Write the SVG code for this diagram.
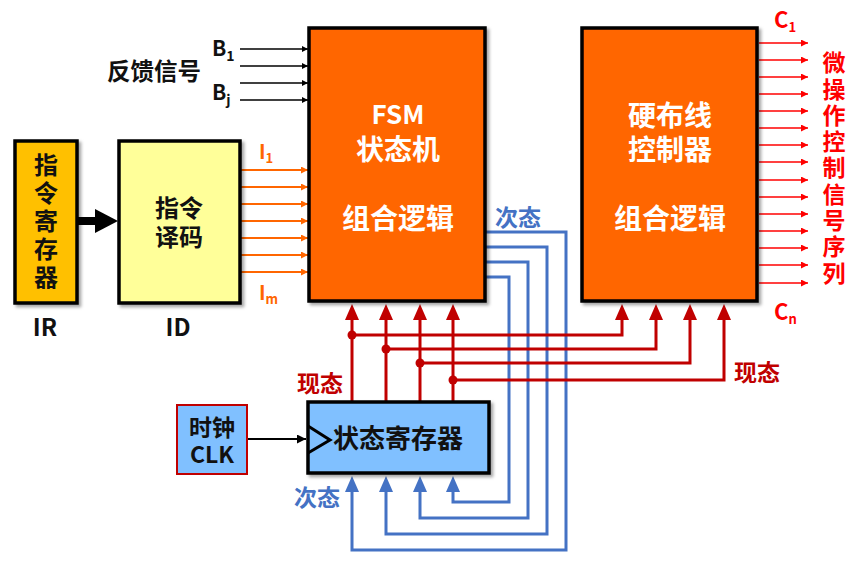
<svg xmlns="http://www.w3.org/2000/svg" width="860" height="562" viewBox="0 0 860 562">
<defs>
<style>
text{font-family:"Noto Sans CJK SC","Microsoft YaHei","Liberation Sans",sans-serif;font-weight:bold;}
.box{stroke:#000;stroke-width:3.5;}
.w{fill:#fff;font-size:28px;text-anchor:middle;}
.k{fill:#111;text-anchor:middle;}
.bl{stroke:#000;stroke-width:1.5;fill:none;}
.or{stroke:#FF6600;stroke-width:2;fill:none;}
.rd{stroke:#FF0000;stroke-width:1.6;fill:none;}
.dr{stroke:#C00000;stroke-width:3;fill:none;}
.bu{stroke:#4472C4;stroke-width:3;fill:none;}
</style>
<filter id="sh" x="-10%" y="-10%" width="130%" height="130%">
<feDropShadow dx="2.5" dy="2.5" stdDeviation="1.5" flood-color="#000" flood-opacity="0.35"/>
</filter>
<marker id="ab" viewBox="0 0 10 10" refX="10" refY="5" markerWidth="6" markerHeight="6" markerUnits="userSpaceOnUse" orient="auto"><path d="M0,0L10,5L0,10z" fill="#000"/></marker>
<marker id="ao" viewBox="0 0 10 10" refX="10" refY="5" markerWidth="7" markerHeight="7" markerUnits="userSpaceOnUse" orient="auto"><path d="M0,0L10,5L0,10z" fill="#FF6600"/></marker>
<marker id="ar" viewBox="0 0 10 10" refX="10" refY="5" markerWidth="7" markerHeight="7" markerUnits="userSpaceOnUse" orient="auto"><path d="M0,0L10,5L0,10z" fill="#FF0000"/></marker>
<marker id="ac" viewBox="0 0 10 10" refX="10" refY="5" markerWidth="9" markerHeight="9" markerUnits="userSpaceOnUse" orient="auto"><path d="M0,0L10,5L0,10z" fill="#000"/></marker>
</defs>
<rect width="860" height="562" fill="#fff"/>

<g id="connectors">
  <rect x="77" y="217" width="19" height="8" fill="#000"/>
  <path d="M95,209L118,221L95,233z" fill="#000"/>
  <line class="bl" x1="240" y1="49" x2="308" y2="49" marker-end="url(#ab)"/>
  <line class="bl" x1="240" y1="66" x2="308" y2="66" marker-end="url(#ab)"/>
  <line class="bl" x1="240" y1="83" x2="308" y2="83" marker-end="url(#ab)"/>
  <line class="bl" x1="240" y1="100" x2="308" y2="100" marker-end="url(#ab)"/>
  <line class="or" x1="241" y1="170" x2="308" y2="170" marker-end="url(#ao)"/>
  <line class="or" x1="241" y1="187" x2="308" y2="187" marker-end="url(#ao)"/>
  <line class="or" x1="241" y1="204" x2="308" y2="204" marker-end="url(#ao)"/>
  <line class="or" x1="241" y1="221" x2="308" y2="221" marker-end="url(#ao)"/>
  <line class="or" x1="241" y1="238" x2="308" y2="238" marker-end="url(#ao)"/>
  <line class="or" x1="241" y1="255" x2="308" y2="255" marker-end="url(#ao)"/>
  <line class="or" x1="241" y1="272" x2="308" y2="272" marker-end="url(#ao)"/>
  <g>
  <line class="rd" x1="759" y1="43" x2="808" y2="43" marker-end="url(#ar)"/>
  <line class="rd" x1="759" y1="60" x2="808" y2="60" marker-end="url(#ar)"/>
  <line class="rd" x1="759" y1="77" x2="808" y2="77" marker-end="url(#ar)"/>
  <line class="rd" x1="759" y1="94" x2="808" y2="94" marker-end="url(#ar)"/>
  <line class="rd" x1="759" y1="111" x2="808" y2="111" marker-end="url(#ar)"/>
  <line class="rd" x1="759" y1="128" x2="808" y2="128" marker-end="url(#ar)"/>
  <line class="rd" x1="759" y1="145" x2="808" y2="145" marker-end="url(#ar)"/>
  <line class="rd" x1="759" y1="162" x2="808" y2="162" marker-end="url(#ar)"/>
  <line class="rd" x1="759" y1="180" x2="808" y2="180" marker-end="url(#ar)"/>
  <line class="rd" x1="759" y1="197" x2="808" y2="197" marker-end="url(#ar)"/>
  <line class="rd" x1="759" y1="214" x2="808" y2="214" marker-end="url(#ar)"/>
  <line class="rd" x1="759" y1="231" x2="808" y2="231" marker-end="url(#ar)"/>
  <line class="rd" x1="759" y1="248" x2="808" y2="248" marker-end="url(#ar)"/>
  <line class="rd" x1="759" y1="265" x2="808" y2="265" marker-end="url(#ar)"/>
  <line class="rd" x1="759" y1="283" x2="808" y2="283" marker-end="url(#ar)"/>
  </g>
  <path class="bu" d="M486,232H566V550H352V490"/>
  <path class="bu" d="M486,247H547V534H386V490"/>
  <path class="bu" d="M486,262H528V518H420V490"/>
  <path class="bu" d="M486,277H509V502H453V490"/>
  <g fill="#4472C4">
    <path d="M345,492L352,476L359,492z"/>
    <path d="M379,492L386,476L393,492z"/>
    <path d="M413,492L420,476L427,492z"/>
    <path d="M446,492L453,476L460,492z"/>
  </g>
  <path class="dr" d="M352,402V318"/>
  <path class="dr" d="M386,402V318"/>
  <path class="dr" d="M420,402V318"/>
  <path class="dr" d="M453,402V318"/>
  <path class="dr" d="M352,335H622V318"/>
  <path class="dr" d="M386,349H656V318"/>
  <path class="dr" d="M420,363H690V318"/>
  <path class="dr" d="M453,380H724V318"/>
  <g fill="#C00000">
    <path d="M345,320L352,304L359,320z"/>
    <path d="M379,320L386,304L393,320z"/>
    <path d="M413,320L420,304L427,320z"/>
    <path d="M446,320L453,304L460,320z"/>
    <path d="M615,320L622,304L629,320z"/>
    <path d="M649,320L656,304L663,320z"/>
    <path d="M683,320L690,304L697,320z"/>
    <path d="M717,320L724,304L731,320z"/>
    <circle cx="352" cy="335" r="4.5"/>
    <circle cx="386" cy="349" r="4.5"/>
    <circle cx="420" cy="363" r="4.5"/>
    <circle cx="453" cy="380" r="4.5"/>
  </g>
  <line x1="248" y1="439" x2="306" y2="439" stroke="#000" stroke-width="2" marker-end="url(#ac)"/>
</g>

<g id="ir">
  <rect class="box" x="15" y="141" width="62" height="162" fill="#FFC000" filter="url(#sh)"/>
  <text x="46" y="153" font-size="24" fill="#111" writing-mode="tb" style="writing-mode:vertical-rl;letter-spacing:4px">指令寄存器</text>
  <text class="k" x="45" y="336" font-size="24">IR</text>
</g>

<g id="id">
  <rect class="box" x="119" y="141" width="121" height="162" fill="#FFFF99" filter="url(#sh)"/>
  <text class="k" font-size="24"><tspan x="179" y="217">指令</tspan><tspan x="179" y="246">译码</tspan></text>
  <text class="k" x="178" y="336" font-size="24">ID</text>
</g>

<g id="fsm">
  <rect class="box" x="309" y="28" width="176" height="273" fill="#FF6600" filter="url(#sh)"/>
  <text class="w"><tspan x="398" y="124" font-size="26">FSM</tspan><tspan x="398" y="160">状态机</tspan><tspan x="398" y="229">组合逻辑</tspan></text>
</g>

<g id="hw">
  <rect class="box" x="582" y="28" width="175" height="273" fill="#FF6600" filter="url(#sh)"/>
  <text class="w"><tspan x="670" y="126">硬布线</tspan><tspan x="670" y="160">控制器</tspan><tspan x="670" y="229">组合逻辑</tspan></text>
</g>

<g id="statereg">
  <rect class="box" x="308" y="402" width="181" height="71" fill="#80C0FF" filter="url(#sh)"/>
  <path d="M308,426L330,440L308,453" fill="none" stroke="#000" stroke-width="3"/>
  <text class="k" x="398" y="448" font-size="26">状态寄存器</text>
</g>

<g id="clk">
  <rect x="177" y="405" width="70" height="69" fill="#80C0FF" stroke="#C00000" stroke-width="2"/>
  <text class="k" font-size="23"><tspan x="212" y="436">时钟</tspan><tspan x="212" y="463">CLK</tspan></text>
</g>

<g id="labels">
  <text x="107" y="80" font-size="23.5" fill="#111">反馈信号</text>
  <text x="212" y="56" font-size="21" fill="#111">B<tspan font-size="14" dy="5">1</tspan></text>
  <text x="212" y="100" font-size="21" fill="#111">B<tspan font-size="14" dy="5">j</tspan></text>
  <text x="259" y="159" font-size="20" fill="#FF6600">I<tspan font-size="13" dy="4">1</tspan></text>
  <text x="259" y="300" font-size="20" fill="#FF6600">I<tspan font-size="13" dy="4">m</tspan></text>
  <text x="774" y="28" font-size="22" fill="#FF0000">C<tspan font-size="13" dy="4">1</tspan></text>
  <text x="774" y="320" font-size="22" fill="#FF0000">C<tspan font-size="13" dy="4">n</tspan></text>
  <text x="834" y="51" font-size="23" fill="#FF0000" writing-mode="tb" style="writing-mode:vertical-rl;letter-spacing:3.3px">微操作控制信号序列</text>
  <text x="297" y="392" font-size="23" fill="#C00000">现态</text>
  <text x="734" y="381" font-size="23" fill="#C00000">现态</text>
  <text x="495" y="226" font-size="23" fill="#4472C4">次态</text>
  <text x="294" y="506" font-size="23" fill="#4472C4">次态</text>
</g>
</svg>
